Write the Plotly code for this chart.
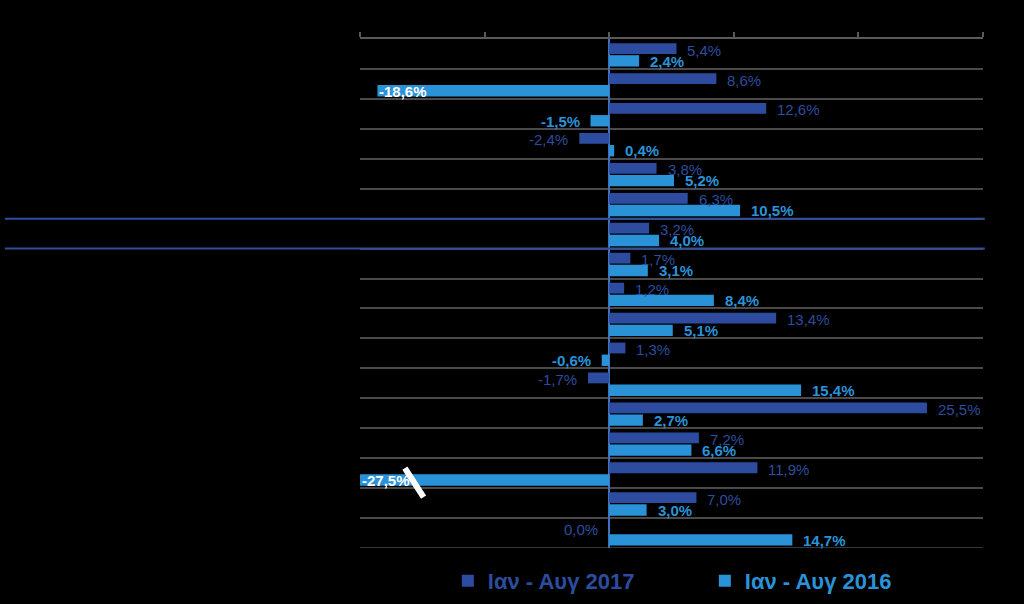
import plotly.graph_objects as go

# Values per row, top to bottom (category names are not shown in the chart)
rows = list(range(17))
v2017 = [5.4, 8.6, 12.6, -2.4, 3.8, 6.3, 3.2, 1.7, 1.2, 13.4, 1.3, -1.7, 25.5, 7.2, 11.9, 7.0, 0.0]
v2016 = [2.4, -18.6, -1.5, 0.4, 5.2, 10.5, 4.0, 3.1, 8.4, 5.1, -0.6, 15.4, 2.7, 6.6, -27.5, 3.0, 14.7]
name2017 = 'Ιαν - Αυγ 2017'
name2016 = 'Ιαν - Αυγ 2016'
highlight_row = 6

DARK = '#2D4C9F'
LIGHT = '#2A93D8'
GRID = '#4a4a4a'
FONT = 'Liberation Sans'
X_RANGE = [-20, 30]


def fmt(v):
    return ('%.1f' % v).replace('.', ',') + '%'


def add_labels(fig, values, yoff, color, bold):
    for i, v in zip(rows, values):
        txt = fmt(v)
        if v < -10:
            # long negative bar: white label sitting at the (clipped) tip
            fig.add_annotation(x=max(v, X_RANGE[0]), y=i + yoff, text='<b>%s</b>' % txt,
                               xanchor='left', showarrow=False, xshift=0,
                               font=dict(family=FONT, size=15, color='white'))
            continue
        if bold:
            txt = '<b>%s</b>' % txt
        fig.add_annotation(x=v, y=i + yoff, text=txt, showarrow=False,
                           xanchor='left' if v > 0 else 'right',
                           xshift=9 if v > 0 else -9,
                           font=dict(family=FONT, size=15, color=color))


fig = go.Figure()
fig.add_trace(go.Bar(y=rows, x=v2017, orientation='h', marker_color=DARK,
                     marker_line_width=0, offset=-0.36, width=0.36,
                     name='<b><span style="color:%s">%s</span></b>' % (DARK, name2017)))
fig.add_trace(go.Bar(y=rows, x=v2016, orientation='h', marker_color=LIGHT,
                     marker_line_width=0, offset=0.04, width=0.38,
                     name='<b><span style="color:%s">%s</span></b>' % (LIGHT, name2016)))

add_labels(fig, v2017, -0.13, DARK, False)
add_labels(fig, v2016, 0.24, LIGHT, True)

# bottom row boundary (plotly drops the grid line at the axis end)
fig.add_shape(type='line', xref='paper', yref='y', x0=0, x1=1, y0=rows[-1] + 0.5, y1=rows[-1] + 0.5,
              line=dict(color=GRID, width=1.5), layer='below')

# highlighted row, lines run across the whole page
for yb in [highlight_row - 0.5, highlight_row + 0.5]:
    fig.add_shape(type='line', xref='paper', yref='y', x0=-0.57, x1=1.003, y0=yb, y1=yb,
                  line=dict(color='#2F4F9F', width=2), layer='above')

# axis break marker on the clipped bar
fig.add_shape(type='line', xref='x', yref='y', x0=-16.4, x1=-14.9, y0=13.83, y1=14.8,
              line=dict(color='white', width=6), layer='above')

fig.update_layout(
    width=1024, height=604,
    paper_bgcolor='black', plot_bgcolor='black',
    margin=dict(l=360, r=41, t=39, b=56),
    barmode='overlay',
    showlegend=True,
    legend=dict(orientation='h', x=0.141, y=0.038, xref='paper', yref='container',
                xanchor='left', yanchor='middle',
                font=dict(family=FONT, size=22), itemwidth=30,
                entrywidth=212, entrywidthmode='pixels', bgcolor='rgba(0,0,0,0)'),
    xaxis=dict(range=X_RANGE, side='top', showline=True, linecolor='#5a5a5a', linewidth=1.5,
               ticks='outside', ticklen=5, tickcolor='#5a5a5a', tickwidth=1.5,
               tickvals=[-20, -10, 0, 10, 20, 30], showticklabels=False, showgrid=False,
               zeroline=True, zerolinecolor='#3F72BE', zerolinewidth=2),
    yaxis=dict(range=[16.5, -0.5], tickvals=[r + 0.5 for r in rows], showticklabels=False,
               showgrid=True, gridcolor=GRID, gridwidth=1.5, zeroline=False,
               ticks=''),
)

fig.write_html("out.html", config={'displayModeBar': False},
               post_script="document.body.style.margin='0';document.body.style.background='black';")
